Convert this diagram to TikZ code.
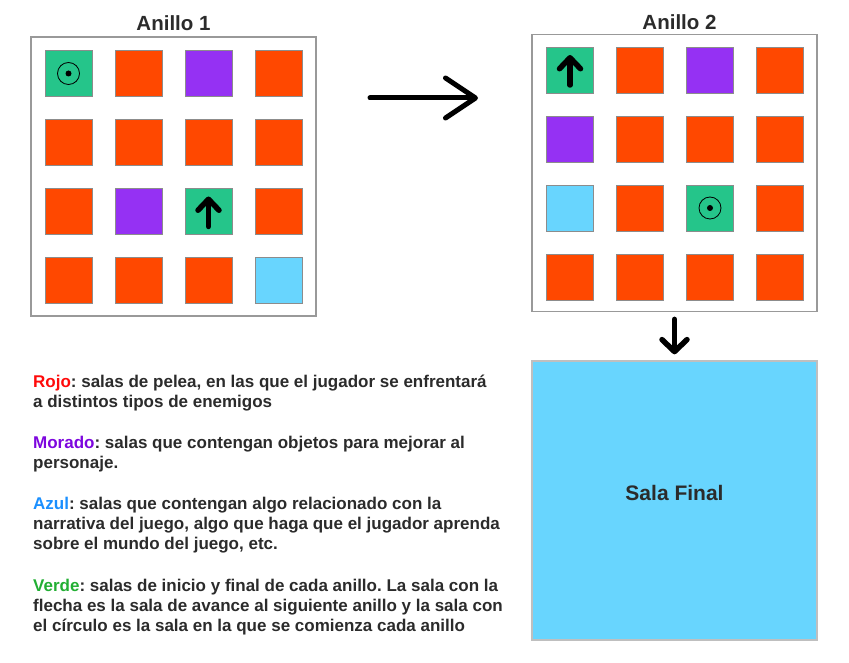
\documentclass[tikz,border=0pt]{standalone}
\usepackage{fontspec}
\setmainfont{Liberation Sans}
\usetikzlibrary{positioning,arrows.meta}
\definecolor{salaroja}{HTML}{FF4800}
\definecolor{salamorada}{HTML}{9531F3}
\definecolor{salaverde}{HTML}{25C58A}
\definecolor{salaazul}{HTML}{68D5FE}
\definecolor{leyroja}{HTML}{FF0A0A}
\definecolor{leymorada}{HTML}{7D06DE}
\definecolor{leyazul}{HTML}{1A8FFF}
\definecolor{leyverde}{HTML}{22AF33}
\definecolor{texto}{HTML}{2B2B2B}
\frenchspacing
\begin{document}
\begin{tikzpicture}[x=1pt, y=-1pt,
    sala/.style={draw=black!45, line width=0.5pt, minimum width=47pt, minimum height=46pt, inner sep=0},
    anillo/.style={draw=black!40, line width=1.3pt, minimum width=285pt, inner sep=0},
    titulo/.style={font=\fontsize{20.5}{24}\selectfont\bfseries, text=texto, inner sep=0},
    leyenda/.style={font=\fontsize{17}{20.4}\selectfont\bfseries, text=texto, align=left, anchor=base west, inner sep=0},
    flecha/.style={line width=5.5pt, line cap=round, -{Straight Barb[length=11pt,width=21pt,round]}}]
    \useasboundingbox (0,0) rectangle (849,663);
    \node[anillo, minimum height=279pt] (ring1) at (173.5,176.5) {};
    \node[anillo, minimum height=277pt] (ring2) at (674.5,173.2) {};
    \node[titulo, above=5pt of ring1] (t1) {Anillo 1};
    \node[titulo, above=4pt of ring2, xshift=5pt] (t2) {Anillo 2};
    \foreach \clr [count=\k from 0] in {verde,roja,morada,roja, roja,roja,roja,roja, roja,morada,verde,roja, roja,roja,roja,azul}
        \node[sala, fill=sala\clr] (a\k) at ({68.5+70*mod(\k,4)},{73.5+69*int(\k/4)}) {};
    \foreach \clr [count=\k from 0] in {verde,roja,morada,roja, morada,roja,roja,roja, azul,roja,verde,roja, roja,roja,roja,roja}
        \node[sala, fill=sala\clr] (b\k) at ({570+70*mod(\k,4)},{70+69*int(\k/4)}) {};
    \node[circle, draw, line width=0.8pt, minimum size=22pt, inner sep=0] (c1) at (a0) {};
    \node[circle, fill, minimum size=6pt, inner sep=0] at (c1) {};
    \node[circle, draw, line width=0.8pt, minimum size=22pt, inner sep=0] (c2) at (b10) {};
    \node[circle, fill, minimum size=6pt, inner sep=0] at (c2) {};
    \draw[flecha] ([yshift=-15pt]a10.center) -- ([yshift=15pt]a10.center);
    \draw[flecha] ([yshift=-15pt]b0.center) -- ([yshift=15pt]b0.center);
    \node[draw=black!25, line width=1.3pt, fill=salaazul, minimum width=285pt, minimum height=279pt] (final) at (674.5,500.5) {};
    \node[titulo, font=\fontsize{21}{25}\selectfont\bfseries] (tfinal) at ([yshift=7.5pt]final.center) {Sala Final};
    \coordinate (ini) at (370,98);
    \coordinate (fin) at (478,98);
    \draw[flecha, line width=5pt, -{Straight Barb[length=30pt,width=40pt,round]}] (ini) -- (fin);
    \draw[flecha, -{Straight Barb[length=12pt,width=25pt,round]}] ([yshift=-7pt]ring2.south) -- ([yshift=6pt]final.north);
    \node[leyenda] (rojo) at (33,407.4) {\textcolor{leyroja}{Rojo}: salas de pelea, en las que el jugador se enfrentará\\a distintos tipos de enemigos};
    \node[leyenda] (morado) at (33,468.4) {\textcolor{leymorada}{Morado}: salas que contengan objetos para mejorar al\\personaje.};
    \node[leyenda] (azul) at (33,549.8) {\textcolor{leyazul}{Azul}: salas que contengan algo relacionado con la\\narrativa del juego, algo que haga que el jugador aprenda\\sobre el mundo del juego, etc.};
    \node[leyenda] (verde) at (33,631.8) {\textcolor{leyverde}{Verde}: salas de inicio y final de cada anillo. La sala con la\\flecha es la sala de avance al siguiente anillo y la sala con\\el círculo es la sala en la que se comienza cada anillo};
\end{tikzpicture}
\end{document}
